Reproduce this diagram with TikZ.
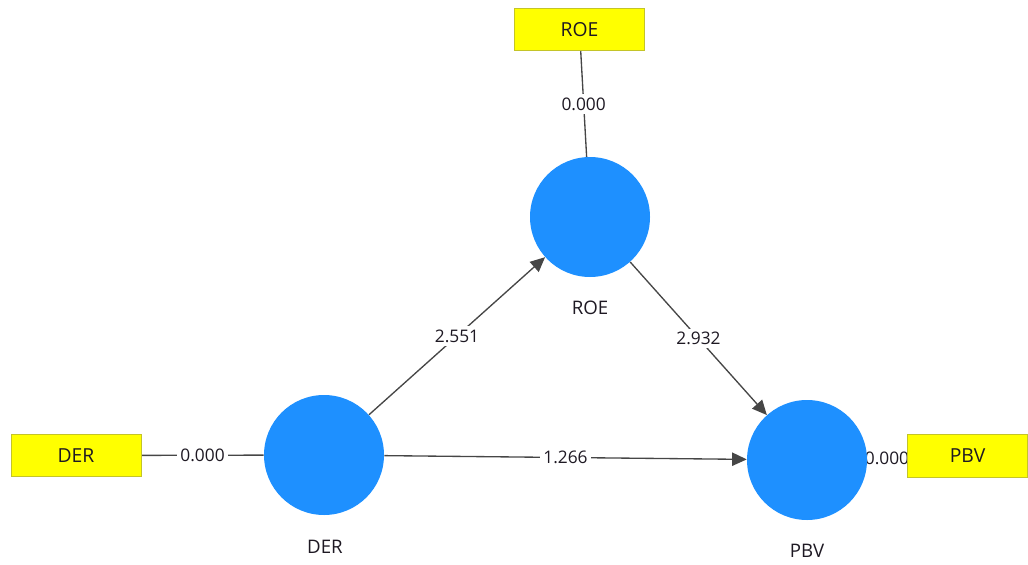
\documentclass[tikz,border=0pt]{standalone}
\usepackage{fontspec}
\setmainfont{Open Sans}
\usetikzlibrary{arrows.meta}
\definecolor{lvblue}{RGB}{30,144,255}
\definecolor{boxyellow}{RGB}{255,255,0}
\definecolor{boxborder}{RGB}{196,196,40}
\definecolor{linegray}{RGB}{70,70,70}
\definecolor{txt}{RGB}{30,25,35}
\pgfdeclarelayer{background}
\pgfsetlayers{background,main}
\begin{document}
\begin{tikzpicture}[x=0.75pt,y=-0.75pt,
  latent/.style={circle,fill=lvblue,draw=none,minimum size=90pt,inner sep=0pt},
  indbox/.style={rectangle,draw=boxborder,line width=0.6pt,fill=boxyellow,minimum height=32pt,inner sep=0pt,font=\fontsize{14.5}{16}\selectfont,text=txt},
  conn/.style={draw=linegray,line width=1pt},
  arr/.style={conn,-{Triangle[length=11pt,width=10pt]}},
  lbl/.style={fill=white,inner sep=2.5pt,font=\fontsize{13}{15}\selectfont,text=txt},
  nlabel/.style={font=\fontsize{14}{16}\selectfont,text=txt}]
\useasboundingbox (0,0) rectangle (1028,564);
% latent variables
\node[latent] (ROEc) at (590,217) {};
\node[latent] (DERc) at (324,455) {};
\node[latent] (PBVc) at (807,460) {};
% indicator boxes
\node[indbox,minimum width=98pt] (ROEb) at (579.5,29.5) {ROE};
\node[indbox,minimum width=97.5pt] (DERb) at (76,455.5) {DER};
\node[indbox,minimum width=90.5pt] (PBVb) at (967.5,456) {PBV};
% circle labels
\node[nlabel] (ROEl) at (590,308) {ROE};
\node[nlabel] (DERl) at (325,547) {DER};
\node[nlabel] (PBVl) at (807,551) {PBV};
\begin{pgfonlayer}{background}
\draw[conn] (ROEb) -- (ROEc) node[midway,lbl] {0.000};
\draw[conn] (DERb) -- (DERc) node[midway,lbl] {0.000};
\draw[conn] (PBVc) -- (PBVb) node[midway,lbl] {0.000};
\draw[arr] (DERc) -- (ROEc) node[midway,lbl] {2.551};
\draw[arr] (ROEc) -- (PBVc) node[midway,lbl] {2.932};
\draw[arr] (DERc) -- (PBVc) node[midway,lbl] {1.266};
\end{pgfonlayer}
\end{tikzpicture}
\end{document}
